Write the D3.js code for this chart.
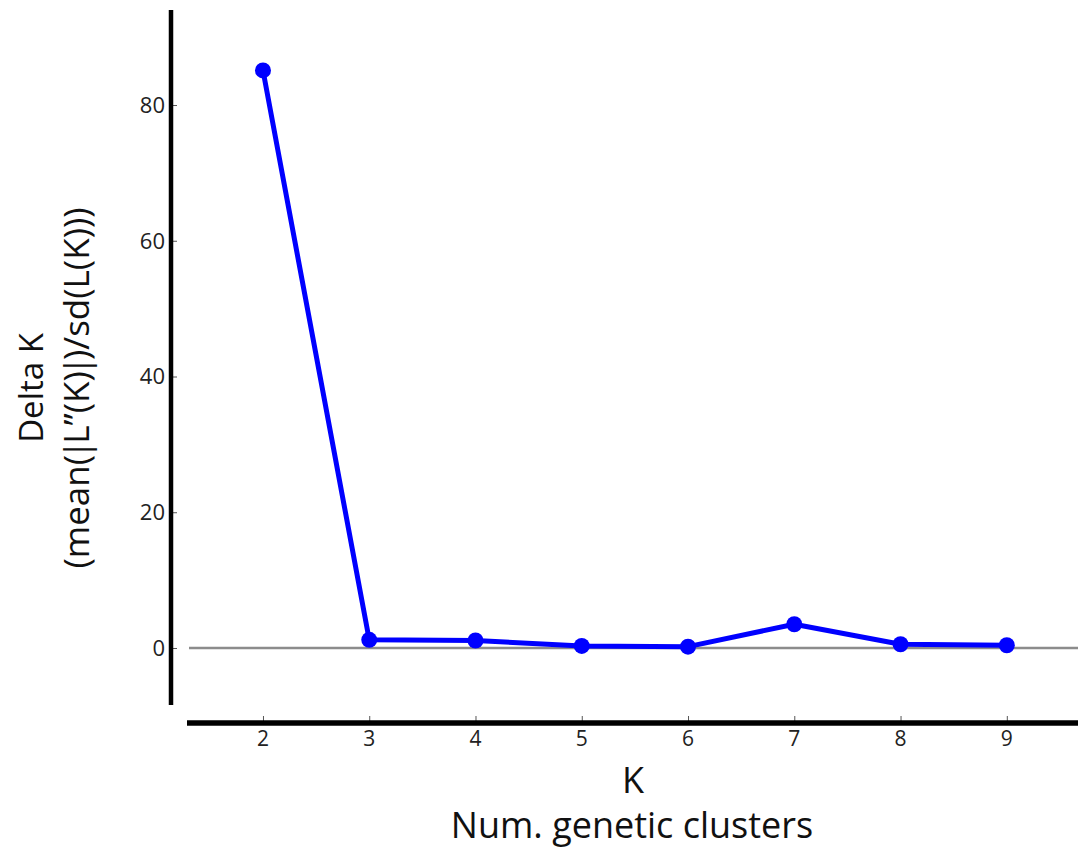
<!DOCTYPE html>
<html>
<head>
<meta charset="utf-8">
<script src="https://cdn.jsdelivr.net/npm/d3@7"></script>
<style>
  body { margin: 0; background: #fff; }
  svg { display: block; }
</style>
</head>
<body>
<svg id="chart" width="1078" height="854"></svg>
<script>
const kValues = [2, 3, 4, 5, 6, 7, 8, 9];
const deltaK = [85.1, 1.2, 1.1, 0.3, 0.2, 3.5, 0.55, 0.4];
const yTicks = [0, 20, 40, 60, 80];
const xTicks = [2, 3, 4, 5, 6, 7, 8, 9];

const svg = d3.select("#chart");
const x = d3.scaleLinear().domain([1.285, 9.67]).range([187, 1078]);
const y = d3.scaleLinear().domain([-8.4, 94]).range([705, 10]);

// zero line
svg.append("line")
  .attr("x1", 189).attr("x2", 1078)
  .attr("y1", y(0)).attr("y2", y(0))
  .attr("stroke", "#8c8c8c").attr("stroke-width", 2.5);

// y axis
const yAxisG = svg.append("g").attr("transform", "translate(171,0)");
yAxisG.call(d3.axisRight(y).tickValues(yTicks).tickSize(6).tickFormat(""));
yAxisG.select(".domain").remove();
yAxisG.selectAll(".tick line").attr("stroke", "#555").attr("stroke-width", 1);
yAxisG.append("line").attr("x1", 0).attr("x2", 0).attr("y1", 10).attr("y2", 705)
  .attr("stroke", "#000").attr("stroke-width", 4.5);
yAxisG.selectAll(".tickLabel").data(yTicks).enter().append("text")
  .attr("x", -6).attr("y", d => y(d)).attr("dy", "0.36em")
  .attr("text-anchor", "end")
  .attr("font-family", "Open Sans").attr("font-size", 22).attr("fill", "#222")
  .text(d => d);

// x axis
const xAxisG = svg.append("g").attr("transform", "translate(0,723)");
xAxisG.call(d3.axisTop(x).tickValues(xTicks).tickSize(7).tickFormat(""));
xAxisG.select(".domain").remove();
xAxisG.selectAll(".tick line").attr("stroke", "#555").attr("stroke-width", 1);
xAxisG.append("line").attr("x1", 187).attr("x2", 1078).attr("y1", 0).attr("y2", 0)
  .attr("stroke", "#000").attr("stroke-width", 5.5);
xAxisG.selectAll(".tickLabel").data(xTicks).enter().append("text")
  .attr("x", d => x(d)).attr("y", 23)
  .attr("text-anchor", "middle")
  .attr("font-family", "Open Sans").attr("font-size", 21).attr("fill", "#222")
  .text(d => d);

// line + points
const pts = kValues.map((k, i) => [k, deltaK[i]]);
svg.append("path")
  .datum(pts)
  .attr("fill", "none").attr("stroke", "#0000ff").attr("stroke-width", 5)
  .attr("stroke-linejoin", "round")
  .attr("d", d3.line().x(d => x(d[0])).y(d => y(d[1])));
svg.selectAll(".pt").data(pts).enter().append("circle")
  .attr("cx", d => x(d[0])).attr("cy", d => y(d[1])).attr("r", 8)
  .attr("fill", "#0000ff");

// axis labels
svg.append("text").attr("x", 633).attr("y", 793).attr("text-anchor", "middle")
  .attr("font-family", "Open Sans").attr("font-size", 36).attr("fill", "#111").text("K");
svg.append("text").attr("x", 632).attr("y", 838).attr("text-anchor", "middle")
  .attr("font-family", "Open Sans").attr("font-size", 36).attr("fill", "#111").text("Num. genetic clusters");

svg.append("text").attr("transform", "translate(43,388) rotate(-90)").attr("text-anchor", "middle")
  .attr("font-family", "Open Sans").attr("font-size", 33).attr("fill", "#111").text("Delta K");
const yl = svg.append("text").attr("transform", "translate(89,388) rotate(-90)").attr("text-anchor", "middle")
  .attr("font-family", "Open Sans").attr("font-size", 35).attr("fill", "#111");
const parts = [["(mean(", 0], ["|", -4], ["L”(K)", -4], ["|", -4], [")/sd(L(K)))", -4]];
parts.forEach(([t, dx]) => yl.append("tspan").attr("dx", dx).text(t));
</script>
</body>
</html>
